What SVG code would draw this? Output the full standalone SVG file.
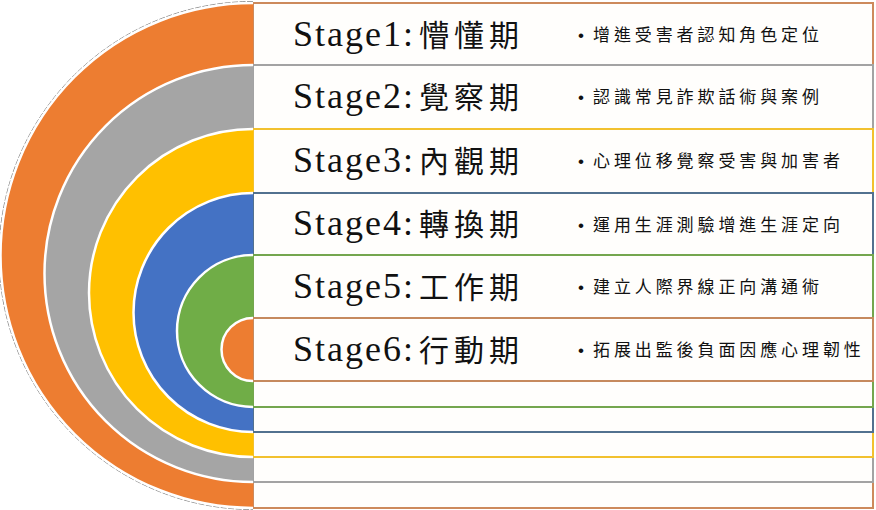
<svg xmlns="http://www.w3.org/2000/svg" width="876" height="510" viewBox="0 0 876 510">
<style>
.bg{fill:#ffffff}
.box{fill:#fffefc;stroke-width:2}
.sep{fill:none;stroke:#ffffff;stroke-width:2.5}
.title{font-family:"Liberation Serif","Noto Sans CJK TC",serif;font-size:36px;fill:#111111;letter-spacing:2px}
.cjk{font-family:"Noto Sans CJK TC","Liberation Serif",serif;font-size:30px;letter-spacing:5px;font-weight:400}
.desc{font-family:"Noto Sans CJK TC","Liberation Sans",sans-serif;font-size:17px;fill:#111111;letter-spacing:3.9px}
.dot{font-family:"Liberation Sans",sans-serif;letter-spacing:0}
</style>
<rect class="bg" x="0" y="0" width="876" height="510"/>
<path d="M253,1.5 A254,254 0 0 0 253,509.5" fill="none" stroke="#444" stroke-width="0.8" stroke-dasharray="6 1.5" opacity="0.8"/>
<g id="stage1">
<rect class="box" x="253" y="3" width="620" height="505" stroke="#CD8A5C"/>
<path d="M253,3 A252.5,252.5 0 0 0 253,508 Z" fill="#ED7D31"/>
<path class="sep" d="M253,3 A252.5,252.5 0 0 0 253,508"/>
</g>
<g id="stage2">
<rect class="box" x="253" y="65" width="620" height="417" stroke="#A3A3A3"/>
<path d="M253,65 A208.5,208.5 0 0 0 253,482 Z" fill="#A5A5A5"/>
<path class="sep" d="M253,65 A208.5,208.5 0 0 0 253,482"/>
</g>
<g id="stage3">
<rect class="box" x="253" y="129" width="620" height="328" stroke="#F2C12E"/>
<path d="M253,129 A164,164 0 0 0 253,457 Z" fill="#FFC000"/>
<path class="sep" d="M253,129 A164,164 0 0 0 253,457"/>
</g>
<g id="stage4">
<rect class="box" x="253" y="193" width="620" height="239" stroke="#52718F"/>
<path d="M253,193 A119.5,119.5 0 0 0 253,432 Z" fill="#4472C4"/>
<path class="sep" d="M253,193 A119.5,119.5 0 0 0 253,432"/>
</g>
<g id="stage5">
<rect class="box" x="253" y="255" width="620" height="152" stroke="#74A64E"/>
<path d="M253,255 A76,76 0 0 0 253,407 Z" fill="#70AD47"/>
<path class="sep" d="M253,255 A76,76 0 0 0 253,407"/>
</g>
<g id="stage6">
<rect class="box" x="253" y="318" width="620" height="63" stroke="#C68A5E"/>
<path d="M253,318 A31.5,31.5 0 0 0 253,381 Z" fill="#ED7D31"/>
<path class="sep" d="M253,318 A31.5,31.5 0 0 0 253,381"/>
</g>
<g id="labels">
<text class="title" x="293" y="46">Stage1:<tspan class="cjk" x="419">懵懂期</tspan></text>
<text class="title" x="293" y="108">Stage2:<tspan class="cjk" x="419">覺察期</tspan></text>
<text class="title" x="293" y="172">Stage3:<tspan class="cjk" x="419">內觀期</tspan></text>
<text class="title" x="293" y="235">Stage4:<tspan class="cjk" x="419">轉換期</tspan></text>
<text class="title" x="293" y="298">Stage5:<tspan class="cjk" x="419">工作期</tspan></text>
<text class="title" x="293" y="361">Stage6:<tspan class="cjk" x="419">行動期</tspan></text>
<text class="desc" y="40.5"><tspan class="dot" x="578">•</tspan><tspan x="593">增進受害者認知角色定位</tspan></text>
<text class="desc" y="102.5"><tspan class="dot" x="578">•</tspan><tspan x="593">認識常見詐欺話術與案例</tspan></text>
<text class="desc" y="166.5"><tspan class="dot" x="578">•</tspan><tspan x="593">心理位移覺察受害與加害者</tspan></text>
<text class="desc" y="230.5"><tspan class="dot" x="578">•</tspan><tspan x="593">運用生涯測驗增進生涯定向</tspan></text>
<text class="desc" y="292.5"><tspan class="dot" x="578">•</tspan><tspan x="593">建立人際界線正向溝通術</tspan></text>
<text class="desc" y="356"><tspan class="dot" x="578">•</tspan><tspan x="593">拓展出監後負面因應心理韌性</tspan></text>
</g>
</svg>
